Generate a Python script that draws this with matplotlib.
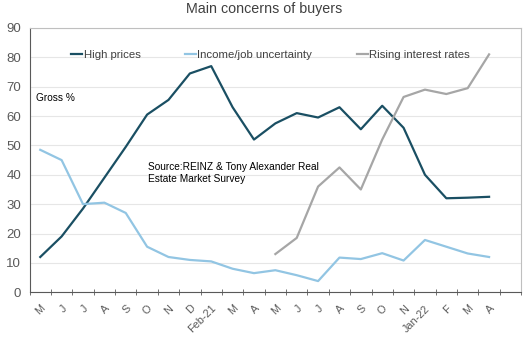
import matplotlib.pyplot as plt

plt.rcParams["font.family"] = ["Liberation Sans", "DejaVu Sans"]

months = ["M", "J", "J", "A", "S", "O", "N", "D", "Feb-21", "M", "A",
          "M", "J", "J", "A", "S", "O", "N", "Jan-22", "F", "M", "A"]

high_prices = [12, 19, 28.5, 39, 49.5, 60.5, 65.5, 74.5, 77, 63, 52,
               57.5, 61, 59.5, 63, 55.5, 63.5, 56, 40, 32, 32.2, 32.5]
income_job = [48.5, 45, 30, 30.5, 27, 15.5, 12, 11, 10.5, 8, 6.5,
              7.5, 5.8, 3.8, 11.8, 11.3, 13.3, 10.8, 17.8, 15.5, 13.2, 12]
# rising interest rates only from May-21
interest_rates = [13, 18.5, 36, 42.5, 35, 52, 66.5, 69, 67.5, 69.5, 81]

x = list(range(len(months)))
x_rates = x[len(months) - len(interest_rates):]

fig = plt.figure(figsize=(5.28, 3.41), dpi=100)
ax = fig.add_axes([0.056, 0.143, 0.931, 0.775])

ax.plot(x, high_prices, color="#1a4f63", lw=1.6, label="High prices")
ax.plot(x, income_job, color="#92c5e3", lw=1.6, label="Income/job uncertainty")
ax.plot(x_rates, interest_rates, color="#a6a6a6", lw=1.6, label="Rising interest rates")

ax.set_ylim(0, 90)
ax.set_yticks(range(0, 91, 10))
ax.set_xlim(-0.5, len(months) + 0.5)
ax.set_xticks(x)
ax.set_xticklabels(months, rotation=45, ha="right", rotation_mode="anchor",
                   fontsize=7.8, color="#595959")
ax.set_xticks([i - 0.5 for i in range(len(months) + 2)], minor=True)
ax.tick_params(axis="x", which="major", length=0, pad=8)
ax.tick_params(axis="x", which="minor", length=5, color="#595959", direction="inout")
ax.tick_params(axis="y", length=0, labelsize=9.5, colors="#595959", pad=6)

ax.grid(axis="y", color="#e6e6e6", lw=0.8)
ax.set_axisbelow(True)
for side in ["top", "right"]:
    ax.spines[side].set_color("#bfbfbf")
    ax.spines[side].set_linewidth(0.8)
ax.spines["left"].set_color("#595959")
ax.spines["bottom"].set_color("#595959")

fig.text(0.5, 0.995, "Main concerns of buyers", fontsize=10.3, color="#404040",
         ha="center", va="top")

ax.legend(loc="upper center", ncol=3, frameon=False, fontsize=8.2,
          handlelength=1.0, handletextpad=0.1, columnspacing=3.9,
          bbox_to_anchor=(0.49, 0.955), labelcolor="#404040")

ax.text(-0.2, 66, "Gross %", fontsize=7.3, color="black", va="center")
ax.text(5.05, 40.5, "Source:REINZ & Tony Alexander Real\nEstate Market Survey",
        fontsize=7.3, color="black", va="center", linespacing=1.25)

fig.savefig("out.png", dpi=100)
